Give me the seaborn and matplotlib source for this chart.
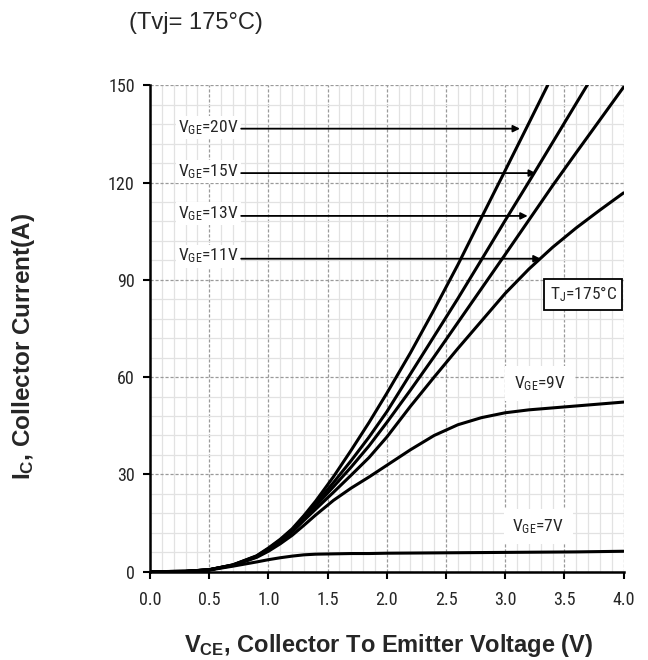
import numpy as np
import pandas as pd
import matplotlib
matplotlib.use("Agg")
import matplotlib.pyplot as plt
from matplotlib import font_manager
import seaborn as sns

# ---- data ----
V = [0.0, 0.3, 0.5, 0.7, 0.9, 1.0, 1.1, 1.2, 1.3, 1.4, 1.55, 1.7, 1.85,
     2.0, 2.2, 2.4, 2.6, 2.8, 3.0, 3.2, 3.4, 3.6, 3.8, 4.0]
ic_20v = [0, 0.1, 0.6, 2.1, 4.9, 7.3, 10.0, 13.2, 17.3, 21.8, 29.3, 37.5, 46.0,
          55.0, 67.5, 80.8, 94.6, 109.2, 123.7, 138.3, 153.0, 167.5, 182.0, 196.5]
ic_15v = [0, 0.1, 0.6, 2.1, 4.8, 7.1, 9.8, 12.9, 17.0, 21.0, 27.5, 34.3, 41.5,
          49.3, 61.0, 72.6, 84.2, 96.2, 108.3, 120.2, 132.3, 144.4, 156.5, 168.5]
ic_13v = [0, 0.1, 0.6, 2.0, 4.7, 7.0, 9.6, 12.6, 16.5, 20.3, 26.2, 32.3, 38.8,
          46.0, 56.0, 66.3, 76.8, 87.3, 97.8, 108.4, 119.0, 129.2, 139.3, 149.4]
ic_11v = [0, 0.1, 0.6, 2.0, 4.6, 6.8, 9.3, 12.2, 15.8, 19.3, 24.5, 29.8, 35.2,
          41.5, 51.0, 60.0, 68.8, 77.3, 85.8, 93.3, 100.0, 106.0, 111.5, 116.8]
ic_9v = [0, 0.1, 0.6, 1.9, 4.4, 6.3, 8.6, 11.2, 14.3, 17.5, 22.0, 25.8, 29.2,
         32.8, 37.6, 42.0, 45.3, 47.5, 49.0, 49.9, 50.5, 51.1, 51.7, 52.3]
ic_7v = [0, 0.1, 0.5, 1.7, 3.0, 3.7, 4.3, 4.8, 5.2, 5.4, 5.5, 5.6, 5.6,
         5.7, 5.75, 5.8, 5.85, 5.9, 5.95, 6.0, 6.05, 6.1, 6.2, 6.3]
series_names = ["20V", "15V", "13V", "11V", "9V", "7V"]

x_ticks = [0.0, 0.5, 1.0, 1.5, 2.0, 2.5, 3.0, 3.5, 4.0]
x_tick_labels = ["0.0", "0.5", "1.0", "1.5", "2.0", "2.5", "3.0", "3.5", "4.0"]
y_ticks = [0, 30, 60, 90, 120, 150]
y_tick_labels = ["0", "30", "60", "90", "120", "150"]

arrow_labels = ["20V", "15V", "13V", "11V"]
arrow_label_y = [137.0, 123.3, 110.5, 97.3]
arrow_y = [136.6, 122.9, 109.7, 96.5]
arrow_end_v = [3.125, 3.26, 3.19, 3.30]

title_text = "(Tvj= 175°C)"
tj_text = r"$\mathregular{T_J}$=175°C"

# ---- build long table ----
all_series = [ic_20v, ic_15v, ic_13v, ic_11v, ic_9v, ic_7v]
rows = []
for name, vals in zip(series_names, all_series):
    for v, i in zip(V, vals):
        rows.append({"V": v, "I": i, "VGE": name})
df = pd.DataFrame(rows)

sns.set_theme(style="white")

installed = {f.name for f in font_manager.fontManager.ttflist}
narrow_name = None
for cand in ["Liberation Sans Narrow", "Arial Narrow", "Roboto Condensed",
             "Open Sans Condensed", "DejaVu Sans Condensed"]:
    if cand in installed:
        narrow_name = cand
        break
if narrow_name is None:
    narrow = ["Liberation Sans", "DejaVu Sans"]
    tick_fs, ann_fs = 11.5, 11
else:
    narrow = [narrow_name, "DejaVu Sans"]
    tick_fs, ann_fs = 13, 12.5
arial = ["Liberation Sans", "DejaVu Sans"]
plt.rcParams["font.family"] = arial

fig = plt.figure(figsize=(6.48, 6.60), dpi=100)
ax = fig.add_axes([0.2315, 0.1338, 0.7308, 0.7371])

# grid
ax.set_xticks(np.arange(0, 4.001, 0.1), minor=True)
ax.set_yticks(np.arange(0, 150.001, 6), minor=True)
ax.grid(which="minor", color="#e2e2e2", lw=0.9, ls="-", zorder=0)
ax.grid(which="major", color="#9a9a9a", lw=0.9, ls=(0, (2.5, 1.5)), zorder=0.5)
ax.set_axisbelow(True)

sns.lineplot(data=df, x="V", y="I", units="VGE", estimator=None, color="black",
             lw=2.2, ax=ax, zorder=3, sort=True)

ax.set_xlim(0, 4.0)
ax.set_ylim(0, 150)
ax.set_xticks(x_ticks)
ax.set_xticklabels(x_tick_labels, fontfamily=narrow, fontsize=tick_fs)
ax.set_yticks(y_ticks)
ax.set_yticklabels(y_tick_labels, fontfamily=narrow, fontsize=tick_fs)
ax.tick_params(axis="both", which="major", direction="out", length=5, width=1.5,
               color="black", bottom=True, left=True)
ax.tick_params(axis="x", which="major", pad=9)
ax.tick_params(axis="y", which="major", pad=6)
ax.tick_params(axis="both", which="minor", length=0)
ax.set_xlabel("")
ax.set_ylabel("")
for s in ["top", "right"]:
    ax.spines[s].set_visible(False)
for s in ["left", "bottom"]:
    ax.spines[s].set_color("black")
    ax.spines[s].set_linewidth(1.8)
    ax.spines[s].set_zorder(4)

# arrow annotations
for lab, ly, ay, ev in zip(arrow_labels, arrow_label_y, arrow_y, arrow_end_v):
    ax.text(0.24, ly, r"$\mathregular{V_{GE}}$=" + lab, fontfamily=narrow,
            fontsize=ann_fs, va="center", ha="left", zorder=5,
            bbox=dict(facecolor="white", edgecolor="none", pad=1.5))
    ax.annotate("", xy=(ev, ay), xytext=(0.77, ay),
                arrowprops=dict(arrowstyle="-|>", color="black", lw=1.3,
                                mutation_scale=10, shrinkA=0, shrinkB=0),
                zorder=5)

ax.text(3.29, 58.0, r"$\mathregular{V_{GE}}$=9V", fontfamily=narrow, fontsize=ann_fs,
        ha="center", va="center", zorder=5,
        bbox=dict(facecolor="white", edgecolor="none", pad=6))
ax.text(3.28, 14.0, r"$\mathregular{V_{GE}}$=7V", fontfamily=narrow, fontsize=ann_fs,
        ha="center", va="center", zorder=5,
        bbox=dict(facecolor="white", edgecolor="none", pad=6))
ax.text(3.66, 85.5, tj_text, fontfamily=narrow, fontsize=ann_fs,
        ha="center", va="center", zorder=5,
        bbox=dict(facecolor="white", edgecolor="black", lw=1.3, pad=4))

# labels & title
fig.text(0.3025, 0.965, title_text, fontfamily=arial, fontsize=17,
         ha="center", va="center")
fig.text(0.6005, 0.0227, r"$\mathregular{V_{CE}}$, Collector To Emitter Voltage (V)",
         fontfamily=arial, fontsize=17, fontweight="bold", ha="center", va="center")
fig.text(0.0355, 0.475, r"$\mathregular{I_C}$, Collector Current(A)",
         fontfamily=arial, fontsize=17.5, fontweight="bold", ha="center",
         va="center", rotation=90)

fig.savefig("out.png", dpi=100, facecolor="white")
